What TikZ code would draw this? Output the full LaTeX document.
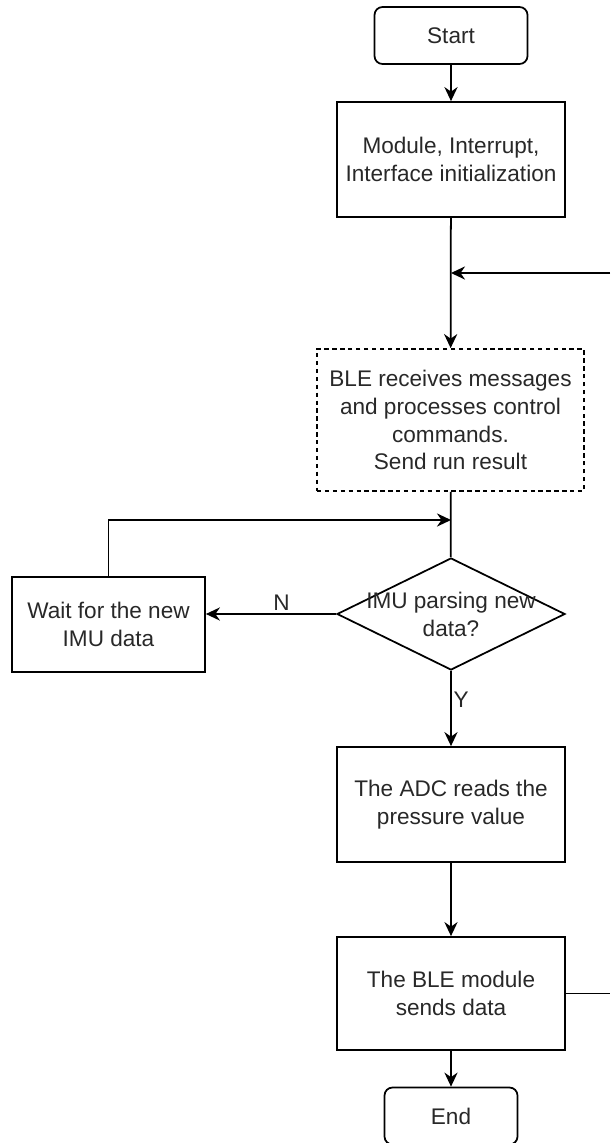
\documentclass[tikz,border=0pt]{standalone}
\usepackage{fontspec}
\setmainfont{Liberation Sans}
\usetikzlibrary{shapes.geometric,arrows.meta}
\definecolor{textgray}{RGB}{40,40,40}

\begin{document}
\begin{tikzpicture}[
  every node/.style={font=\fontsize{12.85}{15.9}\selectfont,text=textgray},
  line/.style={line width=1pt},
  arr/.style={line width=1pt,-{Stealth[length=8pt,width=7.5pt]}},
  terminal/.style={draw,line width=1pt,rounded corners=0.16cm,minimum height=1.14cm},
  process/.style={draw,line width=1pt,minimum width=4.56cm,minimum height=2.3cm,align=center},
  dashedbox/.style={dash pattern=on 2.5pt off 2pt},
  decision/.style={draw,diamond,line width=1pt,minimum width=4.56cm,minimum height=2.24cm,inner sep=0pt}
]
\useasboundingbox (0,0) rectangle (12.2,-22.86);

\node[terminal,minimum width=3.06cm] (start) at (9.02,-0.71) {Start};
\node[process] (init) at (9.02,-3.19) {Module, Interrupt,\\Interface initialization};
\node[process,dashedbox,minimum width=5.34cm,minimum height=2.84cm] (ble) at (9.01,-8.4) {BLE receives messages\\and processes control\\commands.\\Send run result};
\node[decision,label={[align=center]center:IMU parsing new\\data?}] (imu) at (9.02,-12.28) {};
\node[process,minimum width=3.86cm,minimum height=1.9cm] (wait) at (2.17,-12.49) {Wait for the new\\IMU data};
\node[process] (adc) at (9.02,-16.09) {The ADC reads the\\pressure value};
\node[process,minimum height=2.26cm] (send) at (9.02,-19.87) {The BLE module\\sends data};
\node[terminal,minimum width=2.66cm] (end) at (9.02,-22.32) {End};

\coordinate (backin) at (12.2,-5.46);
\coordinate (backout) at (12.2,-19.87);
\coordinate (loop) at (9.02,-10.4);

\draw[arr] (start) -- (init);
\draw[arr] (init) -- (ble);
\draw[arr] (backin) -- (backin -| init.south);
\draw[line] (ble) -- (imu);
\draw[arr] (wait.north) |- (loop);
\draw[arr] (imu.west) -- (imu.west -| wait.east) node[pos=0.42,above,inner sep=1.5pt] {N};
\draw[arr] (imu.south) -- (adc.north) node[pos=0.38,right,inner sep=1pt] {Y};
\draw[arr] (adc) -- (send);
\draw[arr] (send) -- (end);
\draw[line] (send) -- (backout);
\end{tikzpicture}
\end{document}
